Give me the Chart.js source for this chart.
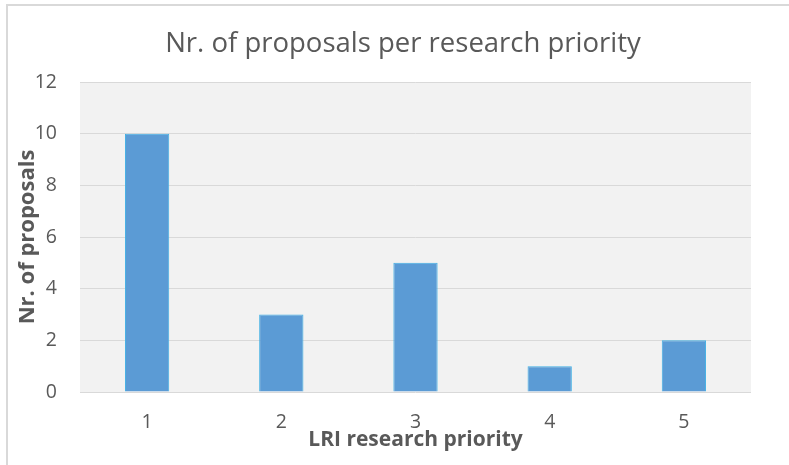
<!DOCTYPE html>
<html>
<head>
<meta charset="utf-8">
<script src="https://cdn.jsdelivr.net/npm/chart.js@4.4.1/dist/chart.umd.min.js"></script>
<style>
  html, body { margin: 0; padding: 0; background: #ffffff; overflow: hidden; width: 789px; height: 465px; }
  #frame { position: absolute; left: 6px; top: 4px; width: 820px; height: 520px;
           border-left: 2px solid #d9d9d9; border-top: 2px solid #d9d9d9; box-sizing: border-box; }
  #wrap { position: absolute; left: 0; top: 0; width: 806px; height: 465px; }
</style>
</head>
<body>
<div id="frame"></div>
<div id="wrap"><canvas id="c" width="806" height="465"></canvas></div>
<script>
const categories = ['1', '2', '3', '4', '5'];
const proposals = [10, 3, 5, 1, 2];
const chartTitle = 'Nr. of proposals per research priority';
const xTitle = 'LRI research priority';
const yTitle = 'Nr. of proposals';
const yMin = 0, yMax = 12, yStep = 2;

const FONT = "'Open Sans', sans-serif";

const plotBg = {
  id: 'plotBg',
  afterLayout(chart) {
    // centre the chart title over the whole chart frame, as in the reference
    if (chart.titleBlock) { chart.titleBlock.left = 0; chart.titleBlock.right = chart.width; }
  },
  beforeDraw(chart) {
    const {ctx, chartArea: a} = chart;
    ctx.save();
    ctx.fillStyle = '#F2F2F2';
    ctx.fillRect(a.left, a.top, a.right - a.left, a.bottom - a.top);
    ctx.restore();
  }
};

new Chart(document.getElementById('c'), {
  type: 'bar',
  data: {
    labels: categories,
    datasets: [{
      data: proposals,
      backgroundColor: '#5B9BD5',
      borderColor: '#41B0E5',
      borderWidth: 1,
      categoryPercentage: 1.0,
      barPercentage: 0.33
    }]
  },
  options: {
    responsive: false,
    animation: false,
    devicePixelRatio: 1,
    layout: { padding: { left: 0, right: 55, top: 0, bottom: 0 } },
    plugins: {
      legend: { display: false },
      tooltip: { enabled: false },
      title: {
        display: true,
        text: chartTitle,
        color: '#595959',
        font: { family: FONT, size: 27.5, weight: 'normal', lineHeight: 1.2 },
        padding: { top: 28, bottom: 21 }
      }
    },
    scales: {
      x: {
        grid: { display: false, drawTicks: false },
        border: { display: false },
        ticks: { color: '#595959', font: { family: FONT, size: 19.5 }, padding: 19 },
        title: {
          display: true, text: xTitle, color: '#595959',
          font: { family: FONT, size: 21, weight: 'bold', lineHeight: 1.2 },
          padding: { top: 0, bottom: 11.9 }
        },
        afterFit(scale) { scale.height = 73; }
      },
      y: {
        min: yMin, max: yMax,
        grid: { color: '#D9D9D9', lineWidth: 1, drawTicks: false },
        border: { display: false },
        ticks: { stepSize: yStep, color: '#595959', font: { family: FONT, size: 19.5 }, padding: 23 },
        title: {
          display: true, text: yTitle, color: '#595959',
          font: { family: FONT, size: 22, weight: 'bold', lineHeight: 1.2 },
          padding: { top: 15, bottom: 0 }
        },
        afterFit(scale) { scale.width = 80; }
      }
    }
  },
  plugins: [plotBg]
});
</script>
</body>
</html>
